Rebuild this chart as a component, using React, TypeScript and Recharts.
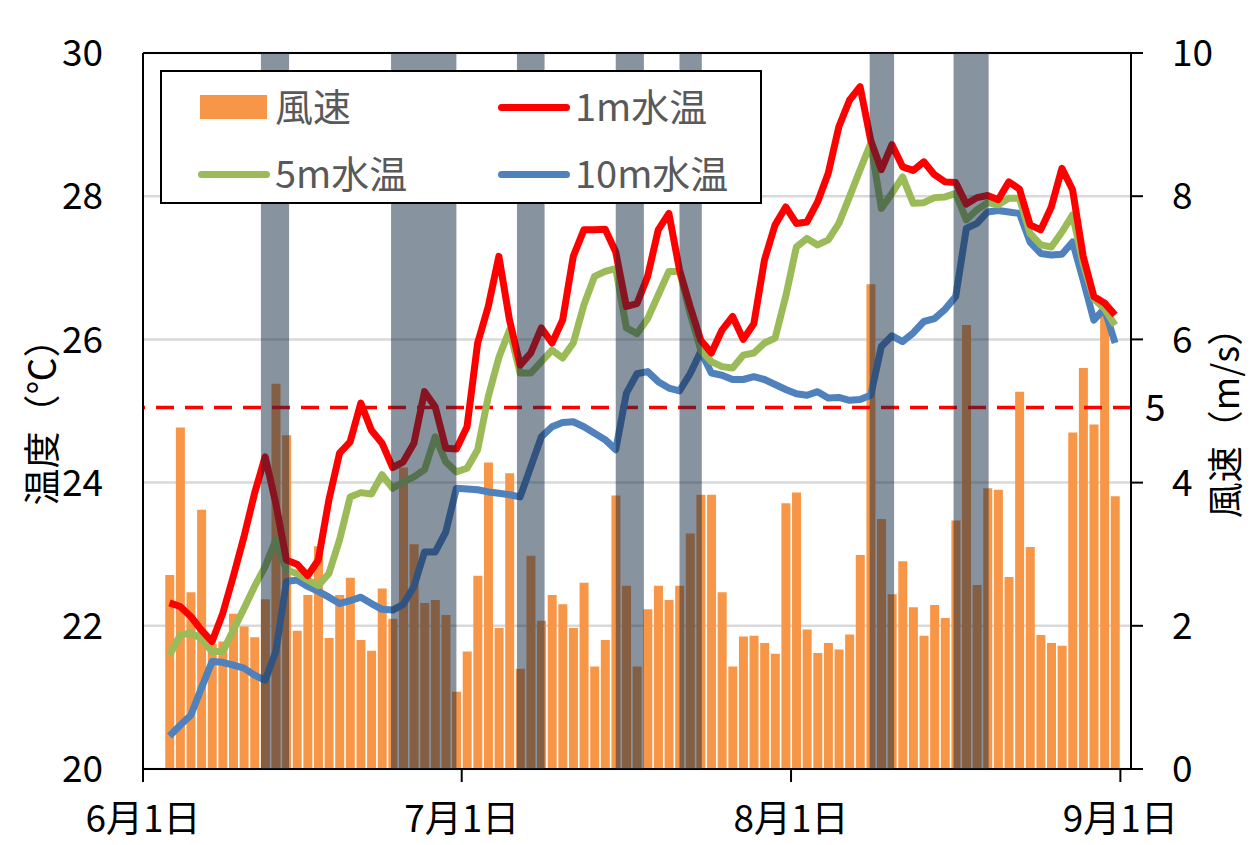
import {
  ComposedChart, Bar, Line, XAxis, YAxis, CartesianGrid, ReferenceArea, ReferenceLine,
} from "recharts";

const FONT = '"Noto Sans CJK JP", "Noto Sans", sans-serif';

// 6月3日〜8月31日 の日別値
const windSpeed = [
  2.71, 4.77, 2.47, 3.62, 1.75, 1.78, 2.17, 1.99, 1.84, 2.37,
  5.38, 4.66, 1.93, 2.43, 3.11, 1.83, 2.43, 2.67, 1.80, 1.65,
  2.52, 2.10, 4.21, 3.14, 2.32, 2.36, 2.15, 1.08, 1.64, 2.70,
  4.28, 1.97, 4.13, 1.40, 2.98, 2.07, 2.43, 2.30, 1.97, 2.60,
  1.43, 1.80, 3.82, 2.56, 1.43, 2.23, 2.56, 2.36, 2.56, 3.29,
  3.83, 3.83, 2.47, 1.43, 1.85, 1.86, 1.76, 1.61, 3.71, 3.86,
  1.95, 1.62, 1.76, 1.67, 1.88, 2.99, 6.77, 3.49, 2.44, 2.90,
  2.26, 1.86, 2.29, 2.11, 3.47, 6.20, 2.57, 3.92, 3.90, 2.68,
  5.27, 3.10, 1.87, 1.76, 1.72, 4.70, 5.60, 4.81, 6.35, 3.81,
];

const temp1m = [
  22.32, 22.27, 22.13, 21.94, 21.78, 22.17, 22.69, 23.24, 23.85, 24.36,
  23.71, 22.92, 22.86, 22.70, 22.92, 23.76, 24.41, 24.57, 25.11, 24.73,
  24.55, 24.21, 24.29, 24.55, 25.27, 25.06, 24.48, 24.47, 24.78, 25.95,
  26.46, 27.16, 26.27, 25.64, 25.81, 26.16, 25.95, 26.27, 27.16, 27.53,
  27.53, 27.54, 27.22, 26.46, 26.50, 26.88, 27.53, 27.76, 26.97, 26.46,
  25.99, 25.81, 26.13, 26.32, 26.00, 26.22, 27.11, 27.60, 27.85, 27.62,
  27.64, 27.92, 28.32, 28.97, 29.34, 29.53, 28.78, 28.37, 28.72, 28.41,
  28.36, 28.48, 28.30, 28.20, 28.19, 27.89, 27.98, 28.01, 27.95, 28.20,
  28.10, 27.60, 27.53, 27.85, 28.39, 28.09, 27.16, 26.60, 26.51, 26.34,
];

const temp5m = [
  21.59, 21.87, 21.90, 21.82, 21.64, 21.64, 21.94, 22.24, 22.55, 22.83,
  23.20, 22.78, 22.73, 22.64, 22.56, 22.73, 23.20, 23.80, 23.86, 23.84,
  24.11, 23.92, 24.01, 24.08, 24.18, 24.64, 24.29, 24.15, 24.20, 24.46,
  25.20, 25.75, 26.13, 25.53, 25.53, 25.69, 25.85, 25.74, 25.95, 26.48,
  26.88, 26.95, 26.99, 26.16, 26.08, 26.29, 26.62, 26.95, 26.95, 26.36,
  25.85, 25.69, 25.62, 25.60, 25.78, 25.81, 25.95, 26.02, 26.60, 27.29,
  27.41, 27.32, 27.39, 27.62, 27.99, 28.37, 28.74, 27.83, 28.04, 28.27,
  27.90, 27.91, 27.98, 27.99, 28.04, 27.67, 27.81, 27.91, 27.88, 27.97,
  27.97, 27.48, 27.32, 27.29, 27.50, 27.74, 27.06, 26.57, 26.43, 26.20,
];

const temp10m = [
  20.46, 20.61, 20.75, 21.13, 21.50, 21.49, 21.45, 21.41, 21.31, 21.24,
  21.64, 22.62, 22.64, 22.55, 22.48, 22.40, 22.31, 22.35, 22.40, 22.31,
  22.23, 22.22, 22.30, 22.55, 23.03, 23.03, 23.31, 23.92, 23.91, 23.90,
  23.87, 23.85, 23.83, 23.80, 24.22, 24.64, 24.78, 24.84, 24.85, 24.78,
  24.69, 24.60, 24.46, 25.25, 25.52, 25.55, 25.41, 25.32, 25.28, 25.52,
  25.83, 25.53, 25.50, 25.44, 25.44, 25.48, 25.44, 25.37, 25.30, 25.24,
  25.22, 25.27, 25.18, 25.19, 25.15, 25.16, 25.22, 25.90, 26.05, 25.97,
  26.09, 26.25, 26.29, 26.42, 26.60, 27.55, 27.62, 27.78, 27.80, 27.78,
  27.76, 27.36, 27.20, 27.18, 27.19, 27.36, 26.83, 26.27, 26.43, 25.95,
];

// 6月1日を0とした日数
const firstDay = 2;
const monthTicks = [0, 30, 61, 92];
const monthLabels = ["6月1日", "7月1日", "8月1日", "9月1日"];
const tempTicks = [20, 22, 24, 26, 28, 30];
const windTicks = [0, 2, 4, 6, 8, 10];
const windThreshold = 5.05;

// 網掛け期間（6月1日からの日数）
const shadedPeriods: Array<[number, number]> = [
  [11.1, 13.75], [23.35, 29.5], [35.2, 37.8], [44.5, 47.15],
  [50.5, 52.6], [68.4, 70.7], [76.3, 79.6],
];

const data = windSpeed.map((w, i) => ({
  day: firstDay + i + 0.5,
  wind: w,
  t1: temp1m[i],
  t5: temp5m[i],
  t10: temp10m[i],
}));

const tickStyle = { fontSize: 37, fill: "#000", fontFamily: FONT };

function LegendBox() {
  const text = { position: "absolute" as const, fontSize: 38, color: "#595959", fontFamily: FONT, lineHeight: "38px" };
  const line = (color: string, top: number, left: number) => (
    <div style={{ position: "absolute", left, top: top - 3.5, width: 72, height: 7, borderRadius: 4, background: color }} />
  );
  return (
    <div style={{ position: "absolute", left: 160, top: 70, width: 602, height: 134, boxSizing: "border-box", border: "2px solid #000", background: "#fff" }}>
      <div style={{ position: "absolute", left: 38, top: 23, width: 67, height: 24, background: "#F79646" }} />
      <div style={{ ...text, left: 113, top: 14 }}>風速</div>
      {line("#FF0000", 35, 336)}
      <div style={{ ...text, left: 413, top: 14 }}>1m水温</div>
      {line("#9BBB59", 102, 36)}
      <div style={{ ...text, left: 113, top: 81 }}>5m水温</div>
      {line("#4F81BD", 102, 336)}
      <div style={{ ...text, left: 413, top: 81 }}>10m水温</div>
    </div>
  );
}

// 縦書き（下から上）の軸タイトル
function AxisTitle({ text, cx, cy, size }: { text: string; cx: number; cy: number; size: number }) {
  return (
    <div style={{
      position: "absolute", left: cx - size / 2, top: cy, width: size,
      writingMode: "vertical-rl", textOrientation: "sideways",
      transform: "translateY(-50%) rotate(180deg)",
      fontSize: size, lineHeight: `${size}px`, whiteSpace: "nowrap", color: "#000",
    }}>
      {text}
    </div>
  );
}

export default function App() {
  return (
    <div style={{ position: "absolute", left: 0, top: 0, width: 1250, height: 845, background: "#fff", fontFamily: FONT }}>
      <ComposedChart width={1250} height={845} data={data} margin={{ top: 53, right: 0, bottom: 0, left: 0 }}>
        <CartesianGrid yAxisId="temp" vertical={false} stroke="#d9d9d9" strokeWidth={2.5} />
        <XAxis dataKey="day" type="number" domain={[0, 93]} ticks={monthTicks} interval={0}
          tickFormatter={(v: number) => monthLabels[monthTicks.indexOf(v)] ?? ""}
          height={76} tickSize={13} tickMargin={24} tick={tickStyle}
          axisLine={{ stroke: "#000", strokeWidth: 2 }} tickLine={{ stroke: "#000", strokeWidth: 2 }} />
        <YAxis yAxisId="temp" orientation="left" domain={[20, 30]} ticks={tempTicks} width={143}
          tickSize={0} tickMargin={40} tick={tickStyle} tickLine={false}
          axisLine={{ stroke: "#000", strokeWidth: 2 }} allowDataOverflow />
        <YAxis yAxisId="wind" orientation="right" domain={[0, 10]} ticks={windTicks} width={119}
          tickSize={12} tickMargin={29} tick={tickStyle}
          axisLine={{ stroke: "#000", strokeWidth: 2 }} tickLine={{ stroke: "#000", strokeWidth: 2 }} allowDataOverflow />
        <Bar yAxisId="wind" dataKey="wind" fill="#F79646" barSize={9} isAnimationActive={false} />
        <ReferenceLine yAxisId="temp" y={30} stroke="#000" strokeWidth={2} />
        <ReferenceLine yAxisId="wind" y={windThreshold} stroke="#FF0000" strokeWidth={3.5} strokeDasharray="18 11"
          zIndex={350}
          label={{ value: "5", position: "right", offset: 14, fontSize: 37, fill: "#000", fontFamily: FONT }} />
        <Line yAxisId="temp" dataKey="t10" stroke="#4F81BD" strokeWidth={7} dot={false} type="linear"
          strokeLinejoin="round" isAnimationActive={false} />
        <Line yAxisId="temp" dataKey="t5" stroke="#9BBB59" strokeWidth={7} dot={false} type="linear"
          strokeLinejoin="round" isAnimationActive={false} />
        <Line yAxisId="temp" dataKey="t1" stroke="#FF0000" strokeWidth={7} dot={false} type="linear"
          strokeLinejoin="round" isAnimationActive={false} />
        {shadedPeriods.map(([a, b], i) => (
          <ReferenceArea key={i} yAxisId="temp" x1={a} x2={b} y1={20} y2={30}
            fill="#112841" fillOpacity={0.5} stroke="none" zIndex={600} />
        ))}
      </ComposedChart>
      <LegendBox />
      <AxisTitle text="温度（℃）" cx={40} cy={413} size={37} />
      <AxisTitle text="風速（m/s）" cx={1223} cy={414} size={36} />
    </div>
  );
}
